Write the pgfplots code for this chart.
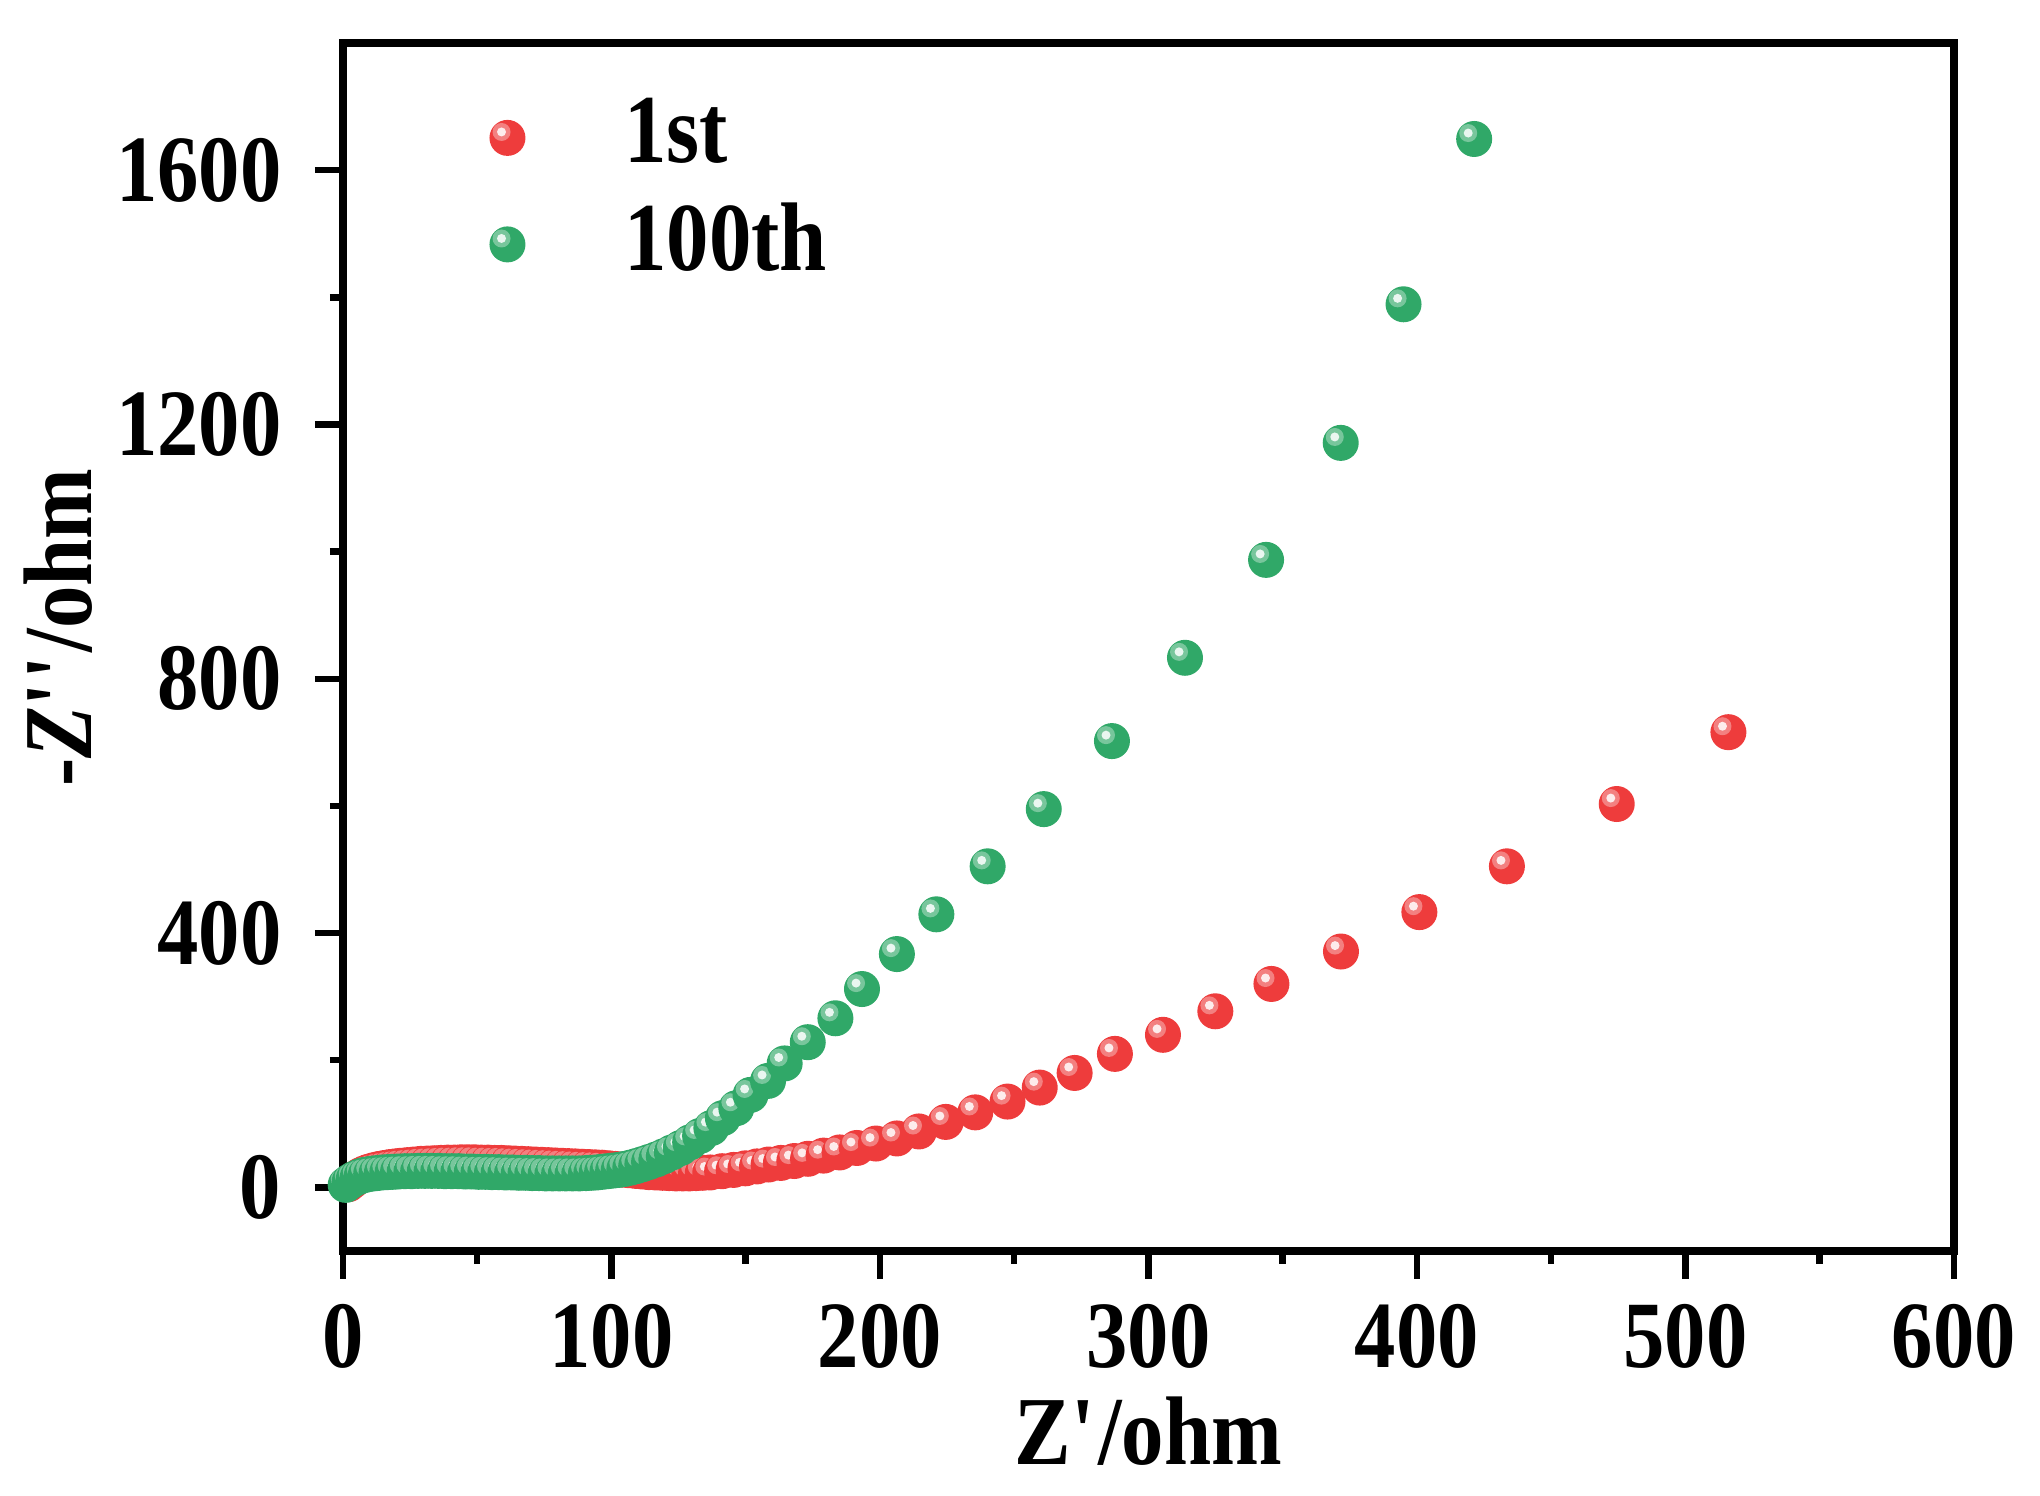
\documentclass[border=0pt]{standalone}
\usepackage{fontspec}
\setmainfont{Liberation Serif}[FakeStretch=0.87]
\usepackage{pgfplots}
\pgfplotsset{compat=1.18}
\definecolor{myred}{RGB}{238,60,60}
\definecolor{mygreen}{RGB}{48,168,104}
\pgfdeclareplotmark{shiny}{%
  \pgfpathcircle{\pgfpointorigin}{\pgfplotmarksize}%
  \pgfusepathqfill
  \begin{pgfscope}%
  \pgfsetfillcolor{white}%
  \pgfsetfillopacity{0.35}%
  \pgfpathcircle{\pgfpoint{-0.33\pgfplotmarksize}{0.33\pgfplotmarksize}}{0.5\pgfplotmarksize}%
  \pgfusepathqfill
  \pgfsetfillopacity{0.85}%
  \pgfpathcircle{\pgfpoint{-0.33\pgfplotmarksize}{0.33\pgfplotmarksize}}{0.25\pgfplotmarksize}%
  \pgfusepathqfill
  \end{pgfscope}%
}
\pgfplotsset{
  redimg/.style={legend image code/.code={\path[draw=none,fill=none] (-3.6pt,-0.8pt) -- (21.4pt,-0.8pt); \draw[only marks, mark=shiny, mark size=3.6pt, mark options={fill=myred, draw=none}] plot coordinates {(0pt,-0.8pt)};}},
  greenimg/.style={legend image code/.code={\path[draw=none,fill=none] (-3.6pt,-0.8pt) -- (21.4pt,-0.8pt); \draw[only marks, mark=shiny, mark size=3.6pt, mark options={fill=mygreen, draw=none}] plot coordinates {(0pt,-0.8pt)};}},
}
\pgfplotstableread{
x y
2 5
3.5 10
5 15
6.5 19
8 22
9.5 24.5
11.5 27
13.5 29
15.5 30.5
17.5 32
19.5 33
21.5 34
24 35
26.5 36
29 37
31.5 37.5
34 38
36.5 38.5
39 39
41.5 39
44 39.5
46.5 39.5
49 39.5
51.5 39
54 39
56.5 38.5
59 38.5
61.5 38
64 37.5
66.5 37
69 36.5
71.5 36
74 35.5
76.5 35
79 34.5
81.5 34
84 33.5
86.5 33
89 32.5
91.5 32
94 31.5
96.5 31
99 30
101.5 29
104 28
106.5 27
109 26
111.5 25
114 24
116.5 23.5
119 23
121.5 22.5
124 22
126.5 22
129 22
131.5 22.5
134 23
136.8 23.5
141.2 25.5
145.5 27.5
149.9 30
154.2 33
158.5 36
163.1 38.5
168.1 41.5
173.2 45
179 50
185 55
191.4 62
198.5 69
206.3 77
214.5 88
224.5 103
235.5 118
247.5 135
259.5 157
272.5 180
287.5 210
305.4 240
324.9 277
345.8 320
371.7 371
400.9 433
433.5 505
474.4 603
516 716
}\first
\pgfplotstableread{
x y
1 4
2.5 9
4 13
5.5 16
7 18.5
8.5 20
10.5 21.5
12.5 22.5
14.5 23.5
16.5 24
18.5 24.5
20.5 25
23 25.5
25.5 25.5
28 26
30.5 26
33 26
35.5 26
38 25.5
40.5 25.5
43 25.5
45.5 25
48 25
50.5 24.5
53 24.5
55.5 24
58 24
60.5 23.5
63 23.5
65.5 23
68 23
70.5 22.5
73 22.5
75.5 22
78 22
80.5 22
83 22
85.5 22
88 22
90.5 22.5
92.5 23
94.5 23.5
96.5 24.5
98.5 25.5
100.6 26.5
102.7 27.5
104.8 29
107 31
109.2 33.5
111.5 36.5
114 40
116.7 44
119.5 49
122.5 55
125.8 62
129.3 71
133 81
137.2 93.4
141.5 109
146.5 124.6
151.8 145.5
158.3 167.5
164.5 195
173.1 228.4
183.4 266
193.3 312
206.3 367
221 429.5
240.1 505
261 595
286.4 702
313.6 833
343.8 987
371.6 1171
395 1389
421.3 1649
}\hundredth
\begin{document}
\begin{tikzpicture}
\begin{axis}[
  at={(0,0)}, anchor=south west,
  scale only axis, width=322.2pt, height=241.6pt,
  xmin=0, xmax=600, ymin=-100, ymax=1800,
  xtick={0,100,...,600}, ytick={0,400,...,1600},
  minor x tick num=1, minor y tick num=1,
  tick align=outside, xtick pos=bottom, ytick pos=left,
  major tick length=5.6pt, minor tick length=2.6pt,
  axis line style={line width=1.5pt},
  every tick/.style={black, line width=1.3pt},
  tick label style={font=\fontsize{19}{22}\selectfont\bfseries},
  /pgf/number format/assume math mode=true,
  /pgf/number format/1000 sep={},
  xticklabel style={anchor=base, yshift=-17.8pt},
  yticklabel style={anchor=east, xshift=-3.2pt},
  xlabel={Z\textquotesingle/ohm},
  ylabel={-\textit{Z}\textquotesingle\textquotesingle/ohm},
  label style={font=\fontsize{19.5}{22}\selectfont\bfseries},
  xlabel style={at={(axis description cs:0.5,0)}, anchor=base, yshift=-42.7pt},
  ylabel style={at={(axis description cs:-0.1561,0.516)}, anchor=base},
  legend style={at={(axis description cs:0.0903,0.9636)}, anchor=north west,
    draw=none, fill=none, inner sep=0pt, row sep=2.6pt,
    font=\fontsize{19.5}{22}\selectfont\bfseries},
  legend cell align=left,
]
\addplot[only marks, mark=shiny, mark size=3.6pt, mark options={fill=myred, draw=none}, redimg]
  table[x=x,y=y] {\first};
\addlegendentry{1st}
\addplot[only marks, mark=shiny, mark size=3.6pt, mark options={fill=mygreen, draw=none}, greenimg]
  table[x=x,y=y] {\hundredth};
\addlegendentry{100th}
\end{axis}
\pgfresetboundingbox
\path[use as bounding box] (-68.6pt,-49pt) rectangle (339.4pt,250.2pt);
\end{tikzpicture}
\end{document}
